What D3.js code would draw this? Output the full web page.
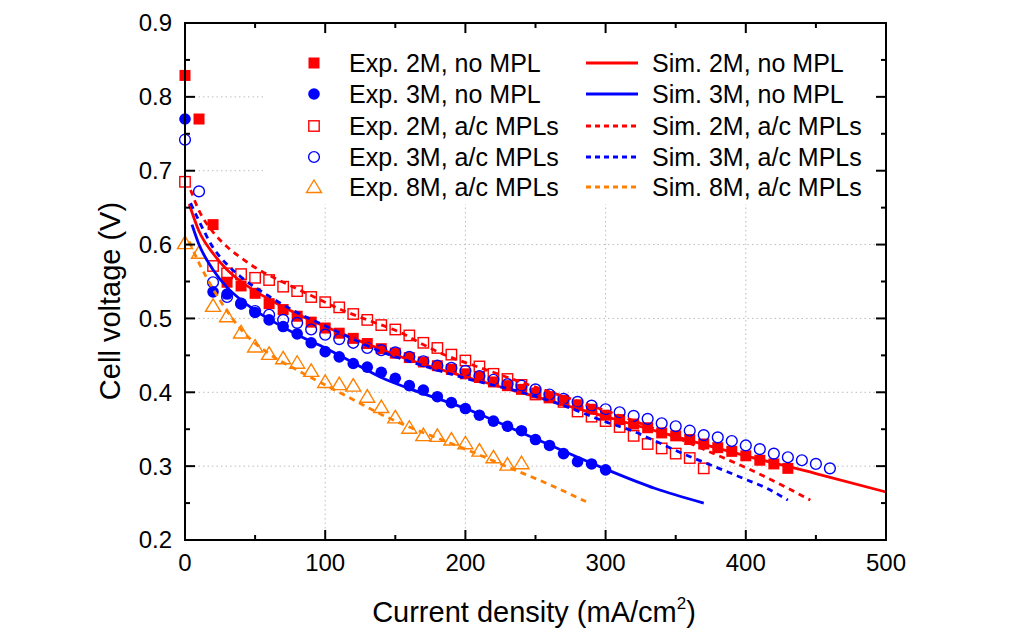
<!DOCTYPE html>
<html><head><meta charset="utf-8">
<script src="https://cdn.jsdelivr.net/npm/d3@7"></script>
<style>
html,body{margin:0;padding:0;background:#fff;}
svg{display:block;font-family:"Liberation Sans",Arial,sans-serif;}
</style></head>
<body><svg id="chart" width="1030" height="637"></svg>
<script>
// ---- data ----
const xTicks = [0,100,200,300,400,500];
const yTicks = [0.2,0.3,0.4,0.5,0.6,0.7,0.8,0.9];
const xTickLabels = ["0","100","200","300","400","500"];
const yTickLabels = ["0.2","0.3","0.4","0.5","0.6","0.7","0.8","0.9"];

const exp2MnoX = [0,10,20,30,40,50,60,70,80,90,100,110,120,130,140,150,160,170,180,190,200,210,220,230,240,250,260,270,280,290,300,310,320,330,340,350,360,370,380,390,400,410,420,430];
const exp2MnoY = [0.829,0.770,0.627,0.549,0.544,0.534,0.520,0.512,0.503,0.495,0.487,0.480,0.473,0.466,0.459,0.453,0.447,0.441,0.436,0.431,0.425,0.420,0.414,0.409,0.404,0.399,0.394,0.389,0.383,0.377,0.369,0.363,0.357,0.352,0.345,0.341,0.336,0.330,0.325,0.320,0.314,0.308,0.303,0.297];

const exp3MnoX = [0,20,30,40,50,60,70,80,90,100,110,120,130,140,150,160,170,180,190,200,210,220,230,240,250,260,270,280,290,300];
const exp3MnoY = [0.770,0.536,0.533,0.520,0.508,0.498,0.489,0.479,0.467,0.455,0.448,0.439,0.434,0.427,0.419,0.409,0.403,0.394,0.386,0.378,0.369,0.361,0.354,0.348,0.336,0.328,0.317,0.306,0.303,0.295];

const exp2MacX = [0,20,30,40,50,60,70,80,90,100,110,120,130,140,150,160,170,180,190,200,210,220,230,240,250,260,270,280,290,300,310,320,330,340,350,360,370];
const exp2MacY = [0.685,0.571,0.561,0.560,0.555,0.552,0.543,0.537,0.529,0.522,0.515,0.506,0.498,0.491,0.485,0.477,0.467,0.460,0.451,0.443,0.435,0.425,0.418,0.410,0.397,0.393,0.387,0.374,0.367,0.361,0.353,0.341,0.330,0.324,0.317,0.311,0.297];

const exp3MacX = [0,10,20,30,40,50,60,70,80,90,100,110,120,130,140,150,160,170,180,190,200,210,220,230,240,250,260,270,280,290,300,310,320,330,340,350,360,370,380,390,400,410,420,430,440,450,460];
const exp3MacY = [0.742,0.672,0.549,0.529,0.520,0.510,0.505,0.498,0.494,0.485,0.478,0.472,0.467,0.460,0.457,0.454,0.448,0.442,0.436,0.433,0.429,0.422,0.417,0.411,0.409,0.404,0.397,0.391,0.387,0.382,0.377,0.373,0.368,0.364,0.358,0.354,0.348,0.342,0.339,0.334,0.328,0.323,0.317,0.312,0.308,0.303,0.297];

const exp8MacX = [0,10,20,30,40,50,60,70,80,90,100,110,120,130,140,150,160,170,180,190,200,210,220,230,240];
const exp8MacY = [0.602,0.589,0.517,0.503,0.481,0.462,0.452,0.446,0.440,0.429,0.414,0.411,0.409,0.394,0.380,0.366,0.352,0.342,0.341,0.336,0.331,0.321,0.312,0.302,0.304];

const sim2MnoX = [3,10,20,30,40,50,60,80,100,120,140,160,200,250,300,350,400,450,500];
const sim2MnoY = [0.655,0.618,0.588,0.566,0.550,0.537,0.526,0.506,0.489,0.473,0.458,0.444,0.421,0.394,0.367,0.340,0.314,0.290,0.265];

const sim3MnoX = [5,10,20,30,40,50,60,80,100,120,140,160,200,250,300,335,370];
const sim3MnoY = [0.627,0.600,0.566,0.542,0.525,0.511,0.499,0.478,0.460,0.440,0.420,0.405,0.378,0.337,0.296,0.270,0.250];

const sim2MacX = [4,10,20,30,40,50,70,90,110,130,150,180,217,250,280,315,350,377,400,430,446];
const sim2MacY = [0.674,0.646,0.617,0.597,0.582,0.569,0.549,0.531,0.513,0.498,0.484,0.455,0.429,0.407,0.388,0.365,0.339,0.317,0.298,0.270,0.254];

const sim3MacX = [4,10,20,30,40,60,80,100,120,140,160,200,240,270,300,320,340,355,377,400,415,430];
const sim3MacY = [0.656,0.632,0.596,0.573,0.556,0.530,0.508,0.490,0.472,0.455,0.442,0.419,0.400,0.382,0.360,0.347,0.330,0.317,0.300,0.282,0.270,0.254];

const sim8MacX = [3,10,20,30,40,60,80,100,120,140,160,180,200,230,260,286];
const sim8MacY = [0.604,0.575,0.540,0.510,0.485,0.452,0.430,0.410,0.390,0.370,0.353,0.338,0.323,0.299,0.275,0.252];

const expLabels = ["Exp. 2M, no MPL","Exp. 3M, no MPL","Exp. 2M, a/c MPLs","Exp. 3M, a/c MPLs","Exp. 8M, a/c MPLs"];
const simLabels = ["Sim. 2M, no MPL","Sim. 3M, no MPL","Sim. 2M, a/c MPLs","Sim. 3M, a/c MPLs","Sim. 8M, a/c MPLs"];

// ---- setup ----
const RED="#ff0000", BLUE="#0000ff", ORANGE="#ff8000";
const svg = d3.select("#chart");
const L=185, R=886, T=23, B=540;
const x = d3.scaleLinear().domain([0,500]).range([L,R]);
const y = d3.scaleLinear().domain([0.2,0.9]).range([B,T]);

const zip = (xs,ys)=>xs.map((v,i)=>[v,ys[i]]);

// grid
const grid = svg.append("g").attr("stroke","#bdbdbd").attr("stroke-width",1).attr("stroke-dasharray","1.5,3");
xTicks.slice(1,-1).forEach(v=>grid.append("line").attr("x1",x(v)).attr("x2",x(v)).attr("y1",T).attr("y2",B));
yTicks.slice(1,-1).forEach(v=>grid.append("line").attr("x1",L).attr("x2",R).attr("y1",y(v)).attr("y2",y(v)));

// legend background
svg.append("rect").attr("x",265).attr("y",36).attr("width",614).attr("height",168).attr("fill","#fff");

// marker drawing
function marker(g, type, cx, cy){
  if(type==="fsq") g.append("rect").attr("x",cx-5.5).attr("y",cy-5.5).attr("width",11).attr("height",11).attr("fill",RED);
  else if(type==="fci") g.append("circle").attr("cx",cx).attr("cy",cy).attr("r",5.8).attr("fill",BLUE);
  else if(type==="osq") g.append("rect").attr("x",cx-5.2).attr("y",cy-5.2).attr("width",10.4).attr("height",10.4).attr("fill","none").attr("stroke",RED).attr("stroke-width",1.4);
  else if(type==="oci") g.append("circle").attr("cx",cx).attr("cy",cy).attr("r",5.4).attr("fill","none").attr("stroke",BLUE).attr("stroke-width",1.4);
  else if(type==="otr") g.append("path").attr("d",`M${cx},${cy-7} L${cx+7.5},${cy+5.5} L${cx-7.5},${cy+5.5} Z`).attr("fill","none").attr("stroke",ORANGE).attr("stroke-width",1.4);
}

const expSeries = [
  {xs:exp2MnoX, ys:exp2MnoY, type:"fsq"},
  {xs:exp3MnoX, ys:exp3MnoY, type:"fci"},
  {xs:exp2MacX, ys:exp2MacY, type:"osq"},
  {xs:exp3MacX, ys:exp3MacY, type:"oci"},
  {xs:exp8MacX, ys:exp8MacY, type:"otr"}
];
const simSeries = [
  {xs:sim2MnoX, ys:sim2MnoY, color:RED, dash:null},
  {xs:sim3MnoX, ys:sim3MnoY, color:BLUE, dash:null},
  {xs:sim2MacX, ys:sim2MacY, color:RED, dash:"6,5"},
  {xs:sim3MacX, ys:sim3MacY, color:BLUE, dash:"6,5"},
  {xs:sim8MacX, ys:sim8MacY, color:ORANGE, dash:"6,5"}
];

const dataG = svg.append("g");
expSeries.forEach(s=>{
  const g = dataG.append("g");
  zip(s.xs,s.ys).forEach(d=>marker(g,s.type,x(d[0]),y(d[1])));
});
const line = d3.line().x(d=>x(d[0])).y(d=>y(d[1])).curve(d3.curveMonotoneX);
simSeries.forEach(s=>{
  dataG.append("path").attr("d",line(zip(s.xs,s.ys))).attr("fill","none")
    .attr("stroke",s.color).attr("stroke-width",2.8).attr("stroke-dasharray",s.dash);
});

// axes frame
const axG = svg.append("g").attr("stroke","#000").attr("stroke-width",2);
axG.append("rect").attr("x",L).attr("y",T).attr("width",R-L).attr("height",B-T).attr("fill","none");
d3.range(0,501,50).forEach(v=>{
  const len = v%100===0 ? 10 : 5;
  axG.append("line").attr("x1",x(v)).attr("x2",x(v)).attr("y1",B).attr("y2",B-len);
  axG.append("line").attr("x1",x(v)).attr("x2",x(v)).attr("y1",T).attr("y2",T+len);
});
d3.range(0,15).map(i=>0.2+i*0.05).forEach((v,i)=>{
  const len = i%2===0 ? 10 : 5;
  axG.append("line").attr("x1",L).attr("x2",L+len).attr("y1",y(v)).attr("y2",y(v));
  axG.append("line").attr("x1",R).attr("x2",R-len).attr("y1",y(v)).attr("y2",y(v));
});

// tick labels
svg.append("g").selectAll("text").data(xTicks).join("text")
  .attr("x",d=>x(d)).attr("y",571).attr("text-anchor","middle").attr("font-size",24)
  .text((d,i)=>xTickLabels[i]);
svg.append("g").selectAll("text").data(yTicks).join("text")
  .attr("x",172).attr("y",d=>y(d)).attr("dy","0.35em").attr("text-anchor","end").attr("font-size",24)
  .text((d,i)=>yTickLabels[i]);

// axis titles
const xt = svg.append("text").attr("x",534).attr("y",622).attr("text-anchor","middle").attr("font-size",29);
xt.append("tspan").text("Current density (mA/cm");
xt.append("tspan").attr("font-size",17).attr("dy",-13).text("2");
xt.append("tspan").attr("dy",13).text(")");
svg.append("text").attr("transform","translate(120,301) rotate(-90)").attr("text-anchor","middle").attr("font-size",29).text("Cell voltage (V)");

// legend
const rowsY = [63,94,126,157,187];
const lg = svg.append("g");
expSeries.forEach((s,i)=>{
  marker(lg, s.type, 314, rowsY[i]);
  lg.append("text").attr("x",349).attr("y",rowsY[i]).attr("dy","0.35em").attr("font-size",25).text(expLabels[i]);
});
simSeries.forEach((s,i)=>{
  lg.append("line").attr("x1",586).attr("x2",638).attr("y1",rowsY[i]).attr("y2",rowsY[i])
    .attr("stroke",s.color).attr("stroke-width",2.8).attr("stroke-dasharray",s.dash?"5,4":null);
  lg.append("text").attr("x",652).attr("y",rowsY[i]).attr("dy","0.35em").attr("font-size",25).text(simLabels[i]);
});
</script></body></html>
